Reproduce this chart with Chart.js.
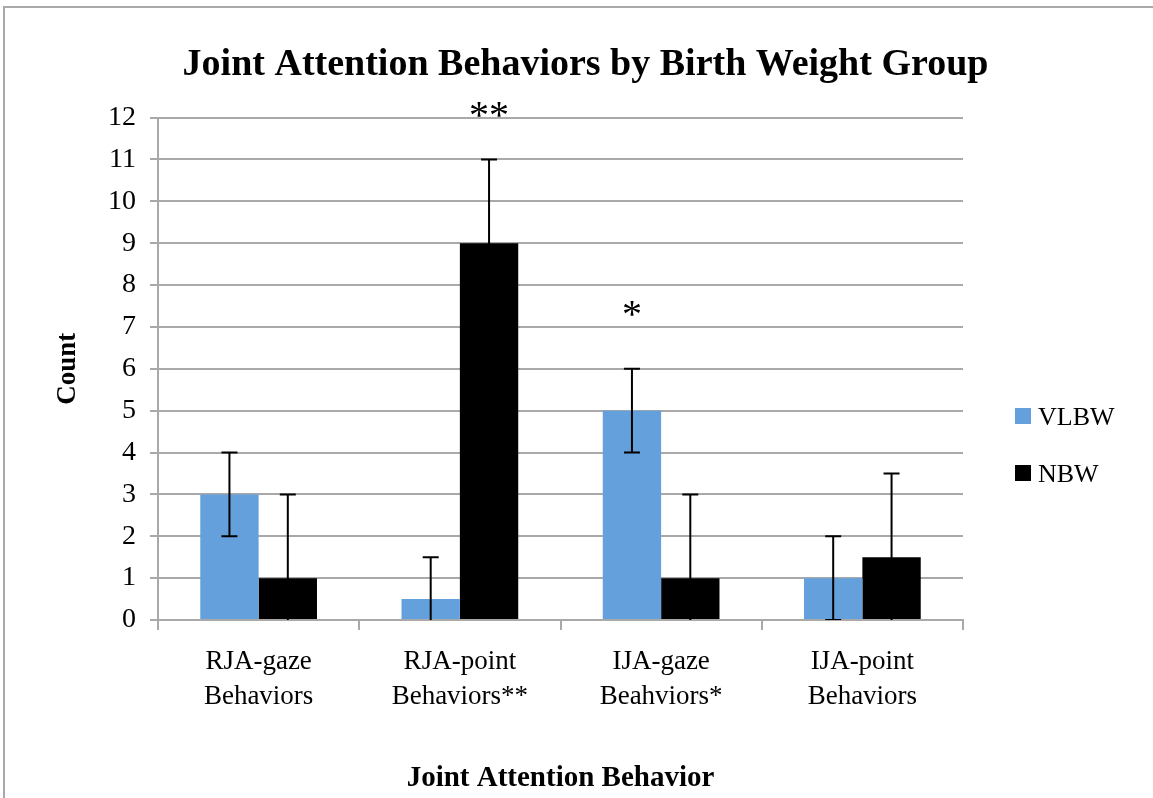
<!DOCTYPE html>
<html lang="en">
<head>
    <meta charset="UTF-8">
    <title>Joint Attention Behaviors by Birth Weight Group</title>
    <script src="https://cdn.jsdelivr.net/npm/chart.js"></script>
    <style>
        body { margin: 0; background: #fff; overflow: hidden; }
        #marco { position: absolute; left: 3px; top: 6px; width: 1200px; height: 900px;
                 border-top: 2px solid #a9a9a9; border-left: 2px solid #a9a9a9; }
        #lienzo { position: absolute; left: 0; top: 0; }
    </style>
</head>
<body>
    <div id="marco"></div>
    <canvas id="lienzo" width="1153" height="798"></canvas>

    <script>
        // Datos
        const categorias = [['RJA-gaze', 'Behaviors'], ['RJA-point', 'Behaviors**'], ['IJA-gaze', 'Beahviors*'], ['IJA-point', 'Behaviors']];
        const vlbw = [3, 0.5, 5, 1];
        const nbw = [1, 9, 1, 1.5];
        const errorVlbw = [1, 1, 1, 1];
        const errorNbw = [2, 2, 2, 2];
        // Marcas de significancia: texto, serie sobre la que va, valor en el eje
        const marcas = ['', '**', '*', ''];
        const serieMarca = [null, 1, 0, null];
        const valorMarca = [null, 12.2, 7.45, null];

        const serif = "'Liberation Serif', 'DejaVu Serif', serif";

        // Dibuja barras de error, asteriscos y la leyenda
        const extras = {
            id: 'extras',
            afterDatasetsDraw(chart) {
                const ctx = chart.ctx;
                const y = chart.scales.y;
                const area = chart.chartArea;
                const errores = [errorVlbw, errorNbw];
                ctx.save();
                ctx.beginPath();
                ctx.rect(area.left, area.top - 40, area.right - area.left, area.bottom - area.top + 40);
                ctx.clip();
                ctx.strokeStyle = '#000';
                ctx.lineWidth = 2;
                chart.data.datasets.forEach((ds, i) => {
                    chart.getDatasetMeta(i).data.forEach((bar, j) => {
                        const v = ds.data[j];
                        const arriba = y.getPixelForValue(v + errores[i][j]);
                        const abajo = y.getPixelForValue(v - errores[i][j]);
                        ctx.beginPath();
                        ctx.moveTo(bar.x, arriba);
                        ctx.lineTo(bar.x, abajo);
                        ctx.moveTo(bar.x - 8, arriba);
                        ctx.lineTo(bar.x + 8, arriba);
                        ctx.moveTo(bar.x - 8, abajo);
                        ctx.lineTo(bar.x + 8, abajo);
                        ctx.stroke();
                    });
                });
                ctx.restore();

                ctx.save();
                ctx.fillStyle = '#000';
                ctx.font = '40px ' + serif;
                ctx.textAlign = 'center';
                ctx.textBaseline = 'middle';
                marcas.forEach((m, j) => {
                    if (!m) return;
                    const bar = chart.getDatasetMeta(serieMarca[j]).data[j];
                    ctx.fillText(m, bar.x, y.getPixelForValue(valorMarca[j]) + 8);
                });

                // leyenda a la derecha
                ctx.font = '26px ' + serif;
                ctx.textAlign = 'left';
                chart.data.datasets.forEach((ds, i) => {
                    const cy = 416 + i * 57;
                    ctx.fillStyle = ds.backgroundColor;
                    ctx.fillRect(1015, cy - 8, 16, 16);
                    ctx.fillStyle = '#000';
                    ctx.fillText(ds.label, 1038, cy + 2);
                });
                ctx.restore();
            }
        };

        new Chart(document.getElementById('lienzo'), {
            type: 'bar',
            data: {
                labels: categorias,
                datasets: [
                    { label: 'VLBW', data: vlbw, backgroundColor: '#64A0DC' },
                    { label: 'NBW', data: nbw, backgroundColor: '#000000' }
                ]
            },
            options: {
                responsive: false,
                animation: false,
                layout: { padding: { left: 18, right: 0, top: 0, bottom: 2 } },
                datasets: { bar: { categoryPercentage: 0.58, barPercentage: 1.0 } },
                plugins: {
                    legend: { display: false },
                    tooltip: { enabled: false },
                    title: {
                        display: true,
                        text: 'Joint Attention Behaviors by Birth Weight Group',
                        color: '#000',
                        font: { family: serif, size: 38, weight: 'bold' },
                        padding: { top: 42, bottom: 30 }
                    }
                },
                scales: {
                    x: {
                        grid: { drawOnChartArea: false, drawTicks: true, tickLength: 10, color: '#a9a9a9', lineWidth: 2 },
                        border: { color: '#a9a9a9', width: 2 },
                        ticks: { color: '#000', font: { family: serif, size: 27, lineHeight: 1.3 }, padding: 14, maxRotation: 0 },
                        title: { display: true, text: 'Joint Attention Behavior', color: '#000', font: { family: serif, size: 29, weight: 'bold' }, padding: 0 },
                        afterFit(s) { s.height = 176; }
                    },
                    y: {
                        min: 0, max: 12,
                        grid: { color: '#a9a9a9', lineWidth: 2, tickLength: 8 },
                        border: { color: '#a9a9a9', width: 2 },
                        ticks: { stepSize: 1, color: '#000', font: { family: serif, size: 28 }, padding: 14 },
                        title: { display: true, text: 'Count', color: '#000', font: { family: serif, size: 27, weight: 'bold' }, padding: { top: 34, bottom: 0 } },
                        afterFit(s) { s.width = 140; }
                    },
                    // eje vacio que reserva el sitio de la leyenda
                    hueco: {
                        position: 'right',
                        grid: { display: false },
                        border: { display: false },
                        ticks: { display: false },
                        afterFit(s) { s.width = 190; }
                    }
                }
            },
            plugins: [extras]
        });
    </script>
</body>
</html>
